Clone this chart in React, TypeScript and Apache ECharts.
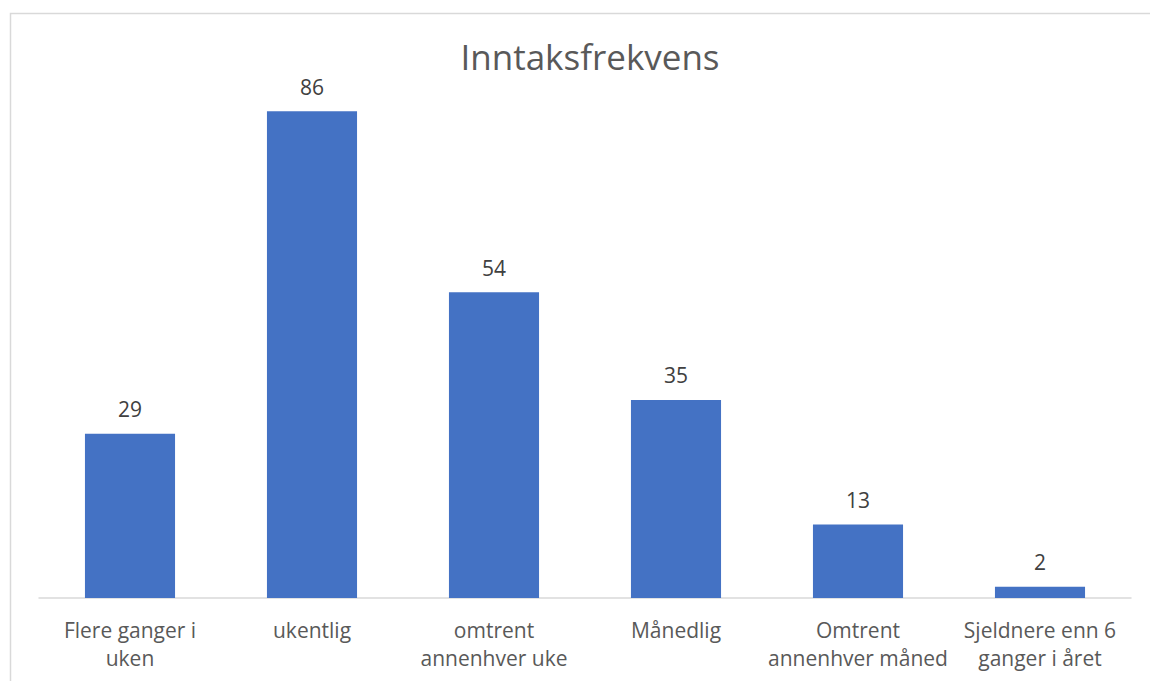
import React, { useEffect, useRef } from "react";
import * as echarts from "echarts";

const categories = [
  "Flere ganger i\nuken",
  "ukentlig",
  "omtrent\nannenhver uke",
  "Månedlig",
  "Omtrent\nannenhver måned",
  "Sjeldnere enn 6\nganger i året",
];
const values = [29, 86, 54, 35, 13, 2];
const titleText = "Inntaksfrekvens";

export default function App() {
  const ref = useRef<HTMLDivElement>(null);
  useEffect(() => {
    if (!ref.current) return;
    const chart = echarts.init(ref.current, null, { renderer: "svg" });
    chart.setOption({
      animation: false,
      backgroundColor: "#ffffff",
      textStyle: { fontFamily: "Open Sans" },
      title: {
        text: titleText,
        left: 585,
        textAlign: "center",
        top: 34,
        textStyle: { fontFamily: "Open Sans", fontSize: 35, fontWeight: "normal", color: "#595959" },
      },
      graphic: [
        {
          type: "rect",
          shape: { x: 10.5, y: 13.5, width: 1200, height: 800 },
          style: { fill: "none", stroke: "#d9d9d9", lineWidth: 1.5 },
          silent: true,
        },
      ],
      grid: { left: 39, right: 19, top: 32, bottom: 83, containLabel: false },
      xAxis: {
        type: "category",
        data: categories,
        axisLine: { lineStyle: { color: "#d9d9d9", width: 1.5 } },
        axisTick: { show: false },
        axisLabel: {
          color: "#595959",
          fontFamily: "Open Sans",
          fontSize: 21,
          lineHeight: 28,
          margin: 18,
          interval: 0,
        },
      },
      yAxis: {
        type: "value",
        min: 0,
        max: 100,
        show: false,
        splitLine: { show: false },
      },
      series: [
        {
          type: "bar",
          data: values,
          barWidth: "49.5%",
          itemStyle: { color: "#4472C4" },
          label: {
            show: true,
            position: "top",
            distance: 14,
            color: "#404040",
            fontFamily: "Open Sans",
            fontSize: 21,
          },
        },
      ],
    });
    return () => chart.dispose();
  }, []);
  return (
    <div
      ref={ref}
      style={{ position: "fixed", left: 0, top: 0, width: 1150, height: 681 }}
    />
  );
}
